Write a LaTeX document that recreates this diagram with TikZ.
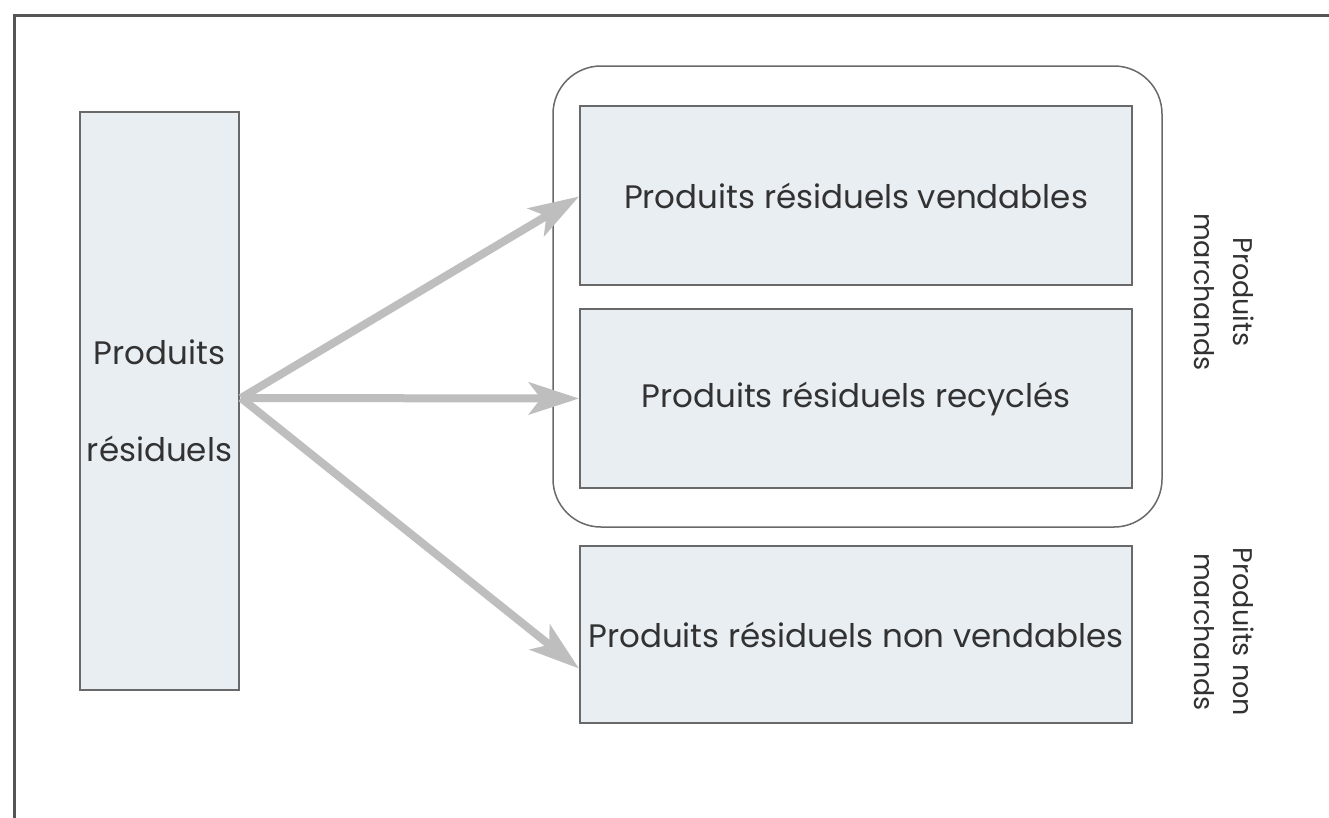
\documentclass[tikz,border=0pt]{standalone}
\usepackage{fontspec}
\setmainfont{Poppins}
\usetikzlibrary{arrows.meta}
\definecolor{boxfill}{RGB}{233,238,243}
\definecolor{boxline}{RGB}{105,105,105}
\definecolor{arrowgray}{RGB}{190,190,190}
\definecolor{framegray}{RGB}{85,85,85}
\definecolor{ink}{RGB}{50,50,50}
\begin{document}
\begin{tikzpicture}[x=1pt,y=-1pt,
  box/.style={draw=boxline, line width=2pt, fill=boxfill, text=ink, inner sep=0pt,
    font=\fontsize{32.5}{38}\selectfont},
  flow/.style={draw=arrowgray, line width=8pt,
    -{Stealth[length=50pt,width=32pt,inset=12pt]}},
  side/.style={rotate=-90, align=center, text=ink, inner sep=0pt,
    font=\fontsize{27}{39}\selectfont}
]
\useasboundingbox (0,0) rectangle (1329,817);
\fill[white] (0,0) rectangle (1329,817);
% outer frame (top and left edges)
\draw[framegray, line width=3pt] (14,830) -- (14,15) -- (1340,15);

% source box
\node[box, minimum width=159pt, minimum height=578pt, align=center,
  font=\fontsize{32.5}{97}\selectfont] (src) at (159.5,401) {Produits\\résiduels};

% group of marketable products
\node[draw=boxline, line width=1.5pt, rounded corners=48pt,
  minimum width=609pt, minimum height=461pt] (grp) at (857.5,296.5) {};

\node[box, minimum width=552pt, minimum height=179pt] (sell) at (856,195.5)
  {Produits résiduels vendables};
\node[box, minimum width=552pt, minimum height=179pt] (recy) at (856,398.5)
  {Produits résiduels recyclés};
\node[box, minimum width=552pt, minimum height=177pt] (nons) at (856,634.5)
  {Produits résiduels non vendables};

% side labels
\node[side] (lblm) at (1224,292) {Produits\\marchands};
\node[side] (lbln) at (1224,632) {Produits non\\marchands};

% arrows
\coordinate (o) at (241,398);
\draw[flow] (o) -- ([yshift=-1pt]sell.west);
\draw[flow] (o) -- (recy.west);
\draw[flow] (o) -- ([yshift=-34pt]nons.west);
\end{tikzpicture}
\end{document}
